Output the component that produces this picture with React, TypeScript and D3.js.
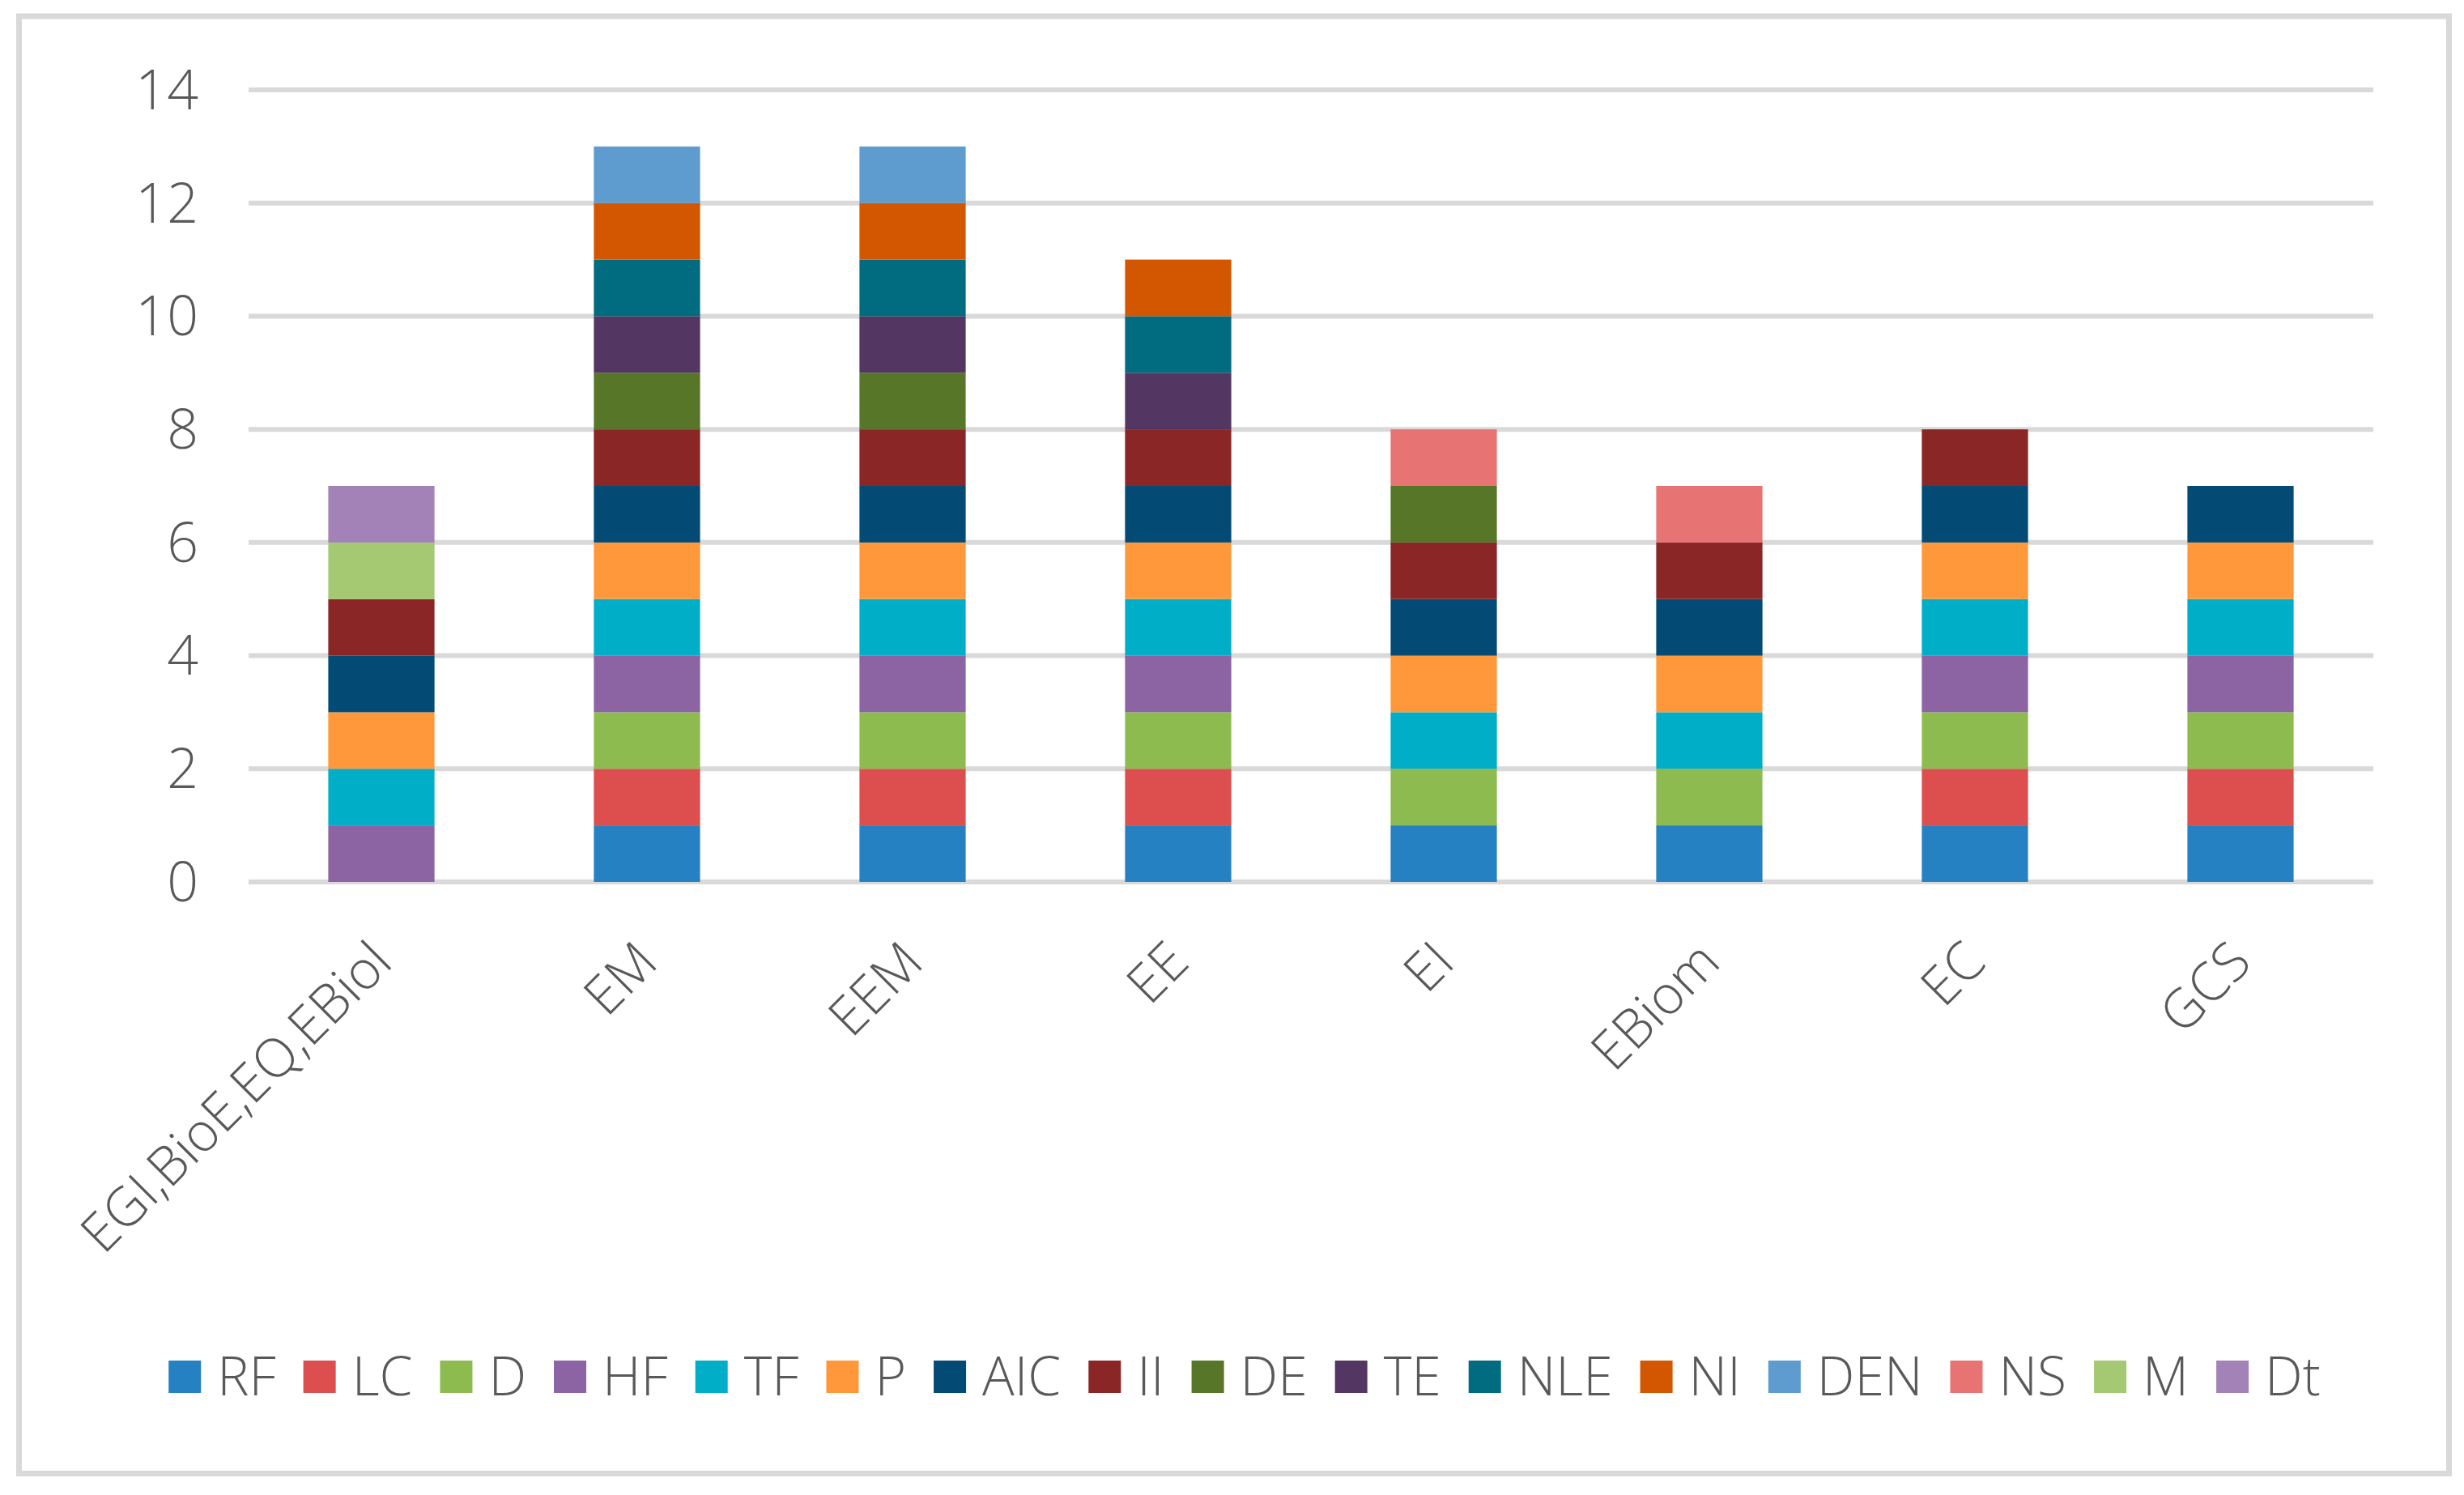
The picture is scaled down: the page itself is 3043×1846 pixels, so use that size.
import React, { useEffect, useRef } from "react";
import * as d3 from "d3";

const categories = ["EGI,BioE,EQ,EBiol", "EM", "EEM", "EE", "EI", "EBiom", "EC", "GCS"];
const seriesNames = ["RF", "LC", "D", "HF", "TF", "P", "AIC", "II", "DE", "TE", "NLE", "NI", "DEN", "NS", "M", "Dt"];
const seriesColors = ["#2681C2", "#DD4E4E", "#8DBB50", "#8C64A4", "#00AEC7", "#FE983B", "#034B75", "#8A2626", "#577627", "#533661", "#016B7F", "#D25700", "#5E9BCF", "#E77373", "#A5C972", "#A383B7"];

const RF = [0, 1, 1, 1, 1, 1, 1, 1];
const LC = [0, 1, 1, 1, 0, 0, 1, 1];
const D = [0, 1, 1, 1, 1, 1, 1, 1];
const HF = [1, 1, 1, 1, 0, 0, 1, 1];
const TF = [1, 1, 1, 1, 1, 1, 1, 1];
const P = [1, 1, 1, 1, 1, 1, 1, 1];
const AIC = [1, 1, 1, 1, 1, 1, 1, 1];
const II = [1, 1, 1, 1, 1, 1, 1, 0];
const DE = [0, 1, 1, 0, 1, 0, 0, 0];
const TE = [0, 1, 1, 1, 0, 0, 0, 0];
const NLE = [0, 1, 1, 1, 0, 0, 0, 0];
const NI = [0, 1, 1, 1, 0, 0, 0, 0];
const DEN = [0, 1, 1, 0, 0, 0, 0, 0];
const NS = [0, 0, 0, 0, 1, 1, 0, 0];
const M = [1, 0, 0, 0, 0, 0, 0, 0];
const Dt = [1, 0, 0, 0, 0, 0, 0, 0];

const seriesValues = [RF, LC, D, HF, TF, P, AIC, II, DE, TE, NLE, NI, DEN, NS, M, Dt];
const yTicks = [0, 2, 4, 6, 8, 10, 12, 14];

const W = 3043;
const H = 1846;
const FONT = "'Open Sans', 'Noto Sans', sans-serif";
const TEXT = "#595959";
const GRID = "#D9D9D9";

export default function App() {
  const ref = useRef<SVGSVGElement | null>(null);

  useEffect(() => {
    const svg = d3.select(ref.current);
    svg.selectAll("*").remove();

    // outer border
    svg.append("rect")
      .attr("x", 23.5).attr("y", 20)
      .attr("width", 3001).attr("height", 1799.5)
      .attr("fill", "#fff").attr("stroke", GRID).attr("stroke-width", 7);

    const x = d3.scaleBand<string>()
      .domain(categories)
      .range([307, 2931])
      .paddingInner(0.6)
      .paddingOuter(0.3);
    const y = d3.scaleLinear().domain([0, 14]).range([1089, 111]);

    // gridlines
    svg.append("g").selectAll("line").data(yTicks).join("line")
      .attr("x1", 307).attr("x2", 2931)
      .attr("y1", (d) => y(d)).attr("y2", (d) => y(d))
      .attr("stroke", GRID).attr("stroke-width", 6);

    // y labels
    svg.append("g").selectAll("text").data(yTicks).join("text")
      .attr("x", 245).attr("y", (d) => y(d)).attr("dy", "0.35em")
      .attr("text-anchor", "end")
      .attr("font-family", FONT).attr("font-weight", 300).attr("font-size", 68).attr("fill", TEXT)
      .text((d) => String(d));

    // stacked bars
    const rows = categories.map((c, i) => {
      const r: Record<string, number | string> = { cat: c };
      seriesNames.forEach((s, k) => { r[s] = seriesValues[k][i]; });
      return r;
    });
    const stack = d3.stack<any>().keys(seriesNames)(rows);
    const bars = svg.append("g");
    stack.forEach((layer, k) => {
      bars.append("g").attr("fill", seriesColors[k])
        .selectAll("rect")
        .data(layer.filter((d) => d[1] - d[0] > 0))
        .join("rect")
        .attr("x", (d: any) => x(d.data.cat as string)!)
        .attr("width", x.bandwidth())
        .attr("y", (d) => y(d[1]))
        .attr("height", (d) => y(d[0]) - y(d[1]));
    });

    // x labels
    svg.append("g").selectAll("text").data(categories).join("text")
      .attr("transform", (d) => `translate(${x(d)! + x.bandwidth() / 2},1175) rotate(-45)`)
      .attr("dy", "0.35em")
      .attr("text-anchor", "end")
      .attr("font-family", FONT).attr("font-weight", 300).attr("font-size", 66).attr("fill", TEXT)
      .text((d) => d);

    // legend
    const lg = svg.append("g");
    const sw = 40, gap1 = 20, gap2 = 34, ly = 1700;
    const items = seriesNames.map((name, k) => {
      const g = lg.append("g");
      g.append("rect").attr("x", 0).attr("y", ly - sw / 2).attr("width", sw).attr("height", sw).attr("fill", seriesColors[k]);
      const t = g.append("text").attr("x", sw + gap1).attr("y", ly).attr("dy", "0.35em")
        .attr("font-family", FONT).attr("font-weight", 300).attr("font-size", 66).attr("fill", TEXT).text(name);
      const len = (t.node() as SVGTextElement).getComputedTextLength();
      return { g, w: sw + gap1 + len };
    });
    const total = items.reduce((a, b) => a + b.w, 0) + gap2 * (items.length - 1);
    let cx = 1537 - total / 2;
    items.forEach((it) => {
      it.g.attr("transform", `translate(${cx},0)`);
      cx += it.w + gap2;
    });
  }, []);

  return (
    <svg
      ref={ref}
      width={W}
      height={H}
      style={{ position: "absolute", left: 0, top: 0, background: "#fff" }}
    />
  );
}
